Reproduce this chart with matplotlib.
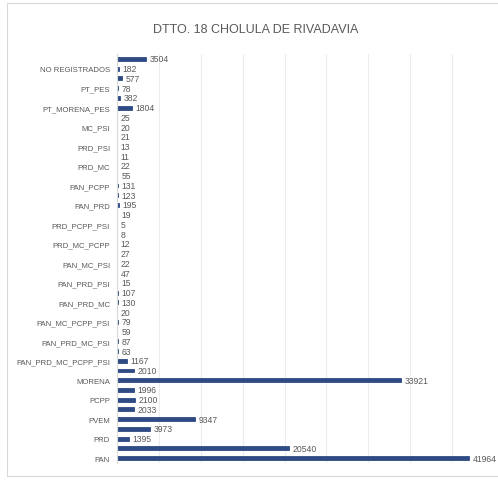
import matplotlib.pyplot as plt
from matplotlib.patches import Rectangle

plt.rcParams['font.family'] = ['Liberation Sans', 'DejaVu Sans']

# bottom to top, as in the chart
partidos = ["PAN", "PRI", "PRD", "PT", "PVEM", "MC", "PCPP", "PSI", "MORENA", "PES",
            "PAN_PRD_MC_PCPP_PSI", "PAN_PRD_MC_PCPP", "PAN_PRD_MC_PSI", "PAN_PRD_PCPP_PSI",
            "PAN_MC_PCPP_PSI", "PRD_MC_PCPP_PSI", "PAN_PRD_MC", "PAN_PRD_PCPP", "PAN_PRD_PSI",
            "PAN_MC_PCPP", "PAN_MC_PSI", "PAN_PCPP_PSI", "PRD_MC_PCPP", "PRD_MC_PSI",
            "PRD_PCPP_PSI", "MC_PCPP_PSI", "PAN_PRD", "PAN_MC", "PAN_PCPP", "PAN_PSI",
            "PRD_MC", "PRD_PCPP", "PRD_PSI", "MC_PCPP", "MC_PSI", "PCPP_PSI",
            "PT_MORENA_PES", "PT_MORENA", "PT_PES", "MORENA_PES", "NO REGISTRADOS", "NULOS"]
votos = [41964, 20540, 1395, 3973, 9347, 2033, 2100, 1996, 33921, 2010,
         1167, 63, 87, 59, 79, 20, 130, 107, 15, 47, 22, 27, 12, 8, 5, 19,
         195, 123, 131, 55, 22, 11, 13, 21, 20, 25, 1804, 382, 78, 577, 182, 3504]

titulo = "DTTO. 18 CHOLULA DE RIVADAVIA"

fig = plt.figure(figsize=(4.98, 4.81), dpi=100)
fig.patches.append(Rectangle((7 / 498, 4 / 481), 1.0, 473 / 481, transform=fig.transFigure,
                             fill=False, edgecolor="#d9d9d9", linewidth=0.8))

ax = fig.add_axes([117 / 498, 17 / 481, 377 / 498, 409 / 481])
y = range(len(partidos))
# thin edge so the tiny bars still show as a small dash
ax.barh(y, votos, height=0.4, color="#2f4b86", edgecolor="#2f4b86", linewidth=0.6)

for i, v in enumerate(votos):
    ax.text(v + 450, i, str(v), va="center", ha="left", fontsize=6.2, color="#595959")

ax.set_xlim(0, 45000)
ax.set_ylim(-0.5, len(partidos) - 0.5)
ax.set_xticks(range(0, 45001, 5000))
ax.set_xticklabels([])
ax.tick_params(axis="x", length=0)
ax.grid(axis="x", color="#ececec", linewidth=0.8)
ax.set_axisbelow(True)

# only every other category gets a label, like the original
shown = list(range(0, len(partidos), 2))
ax.set_yticks(shown)
ax.set_yticklabels([partidos[i] for i in shown], fontsize=5.6, color="#595959")
ax.tick_params(axis="y", length=0, pad=5)

for s in ["top", "right", "bottom"]:
    ax.spines[s].set_visible(False)
ax.spines["left"].set_color("#d9d9d9")

fig.text(256 / 498, 1 - 30 / 481, titulo, ha="center", va="center", fontsize=9, color="#595959")

fig.savefig("out.png", dpi=100)
